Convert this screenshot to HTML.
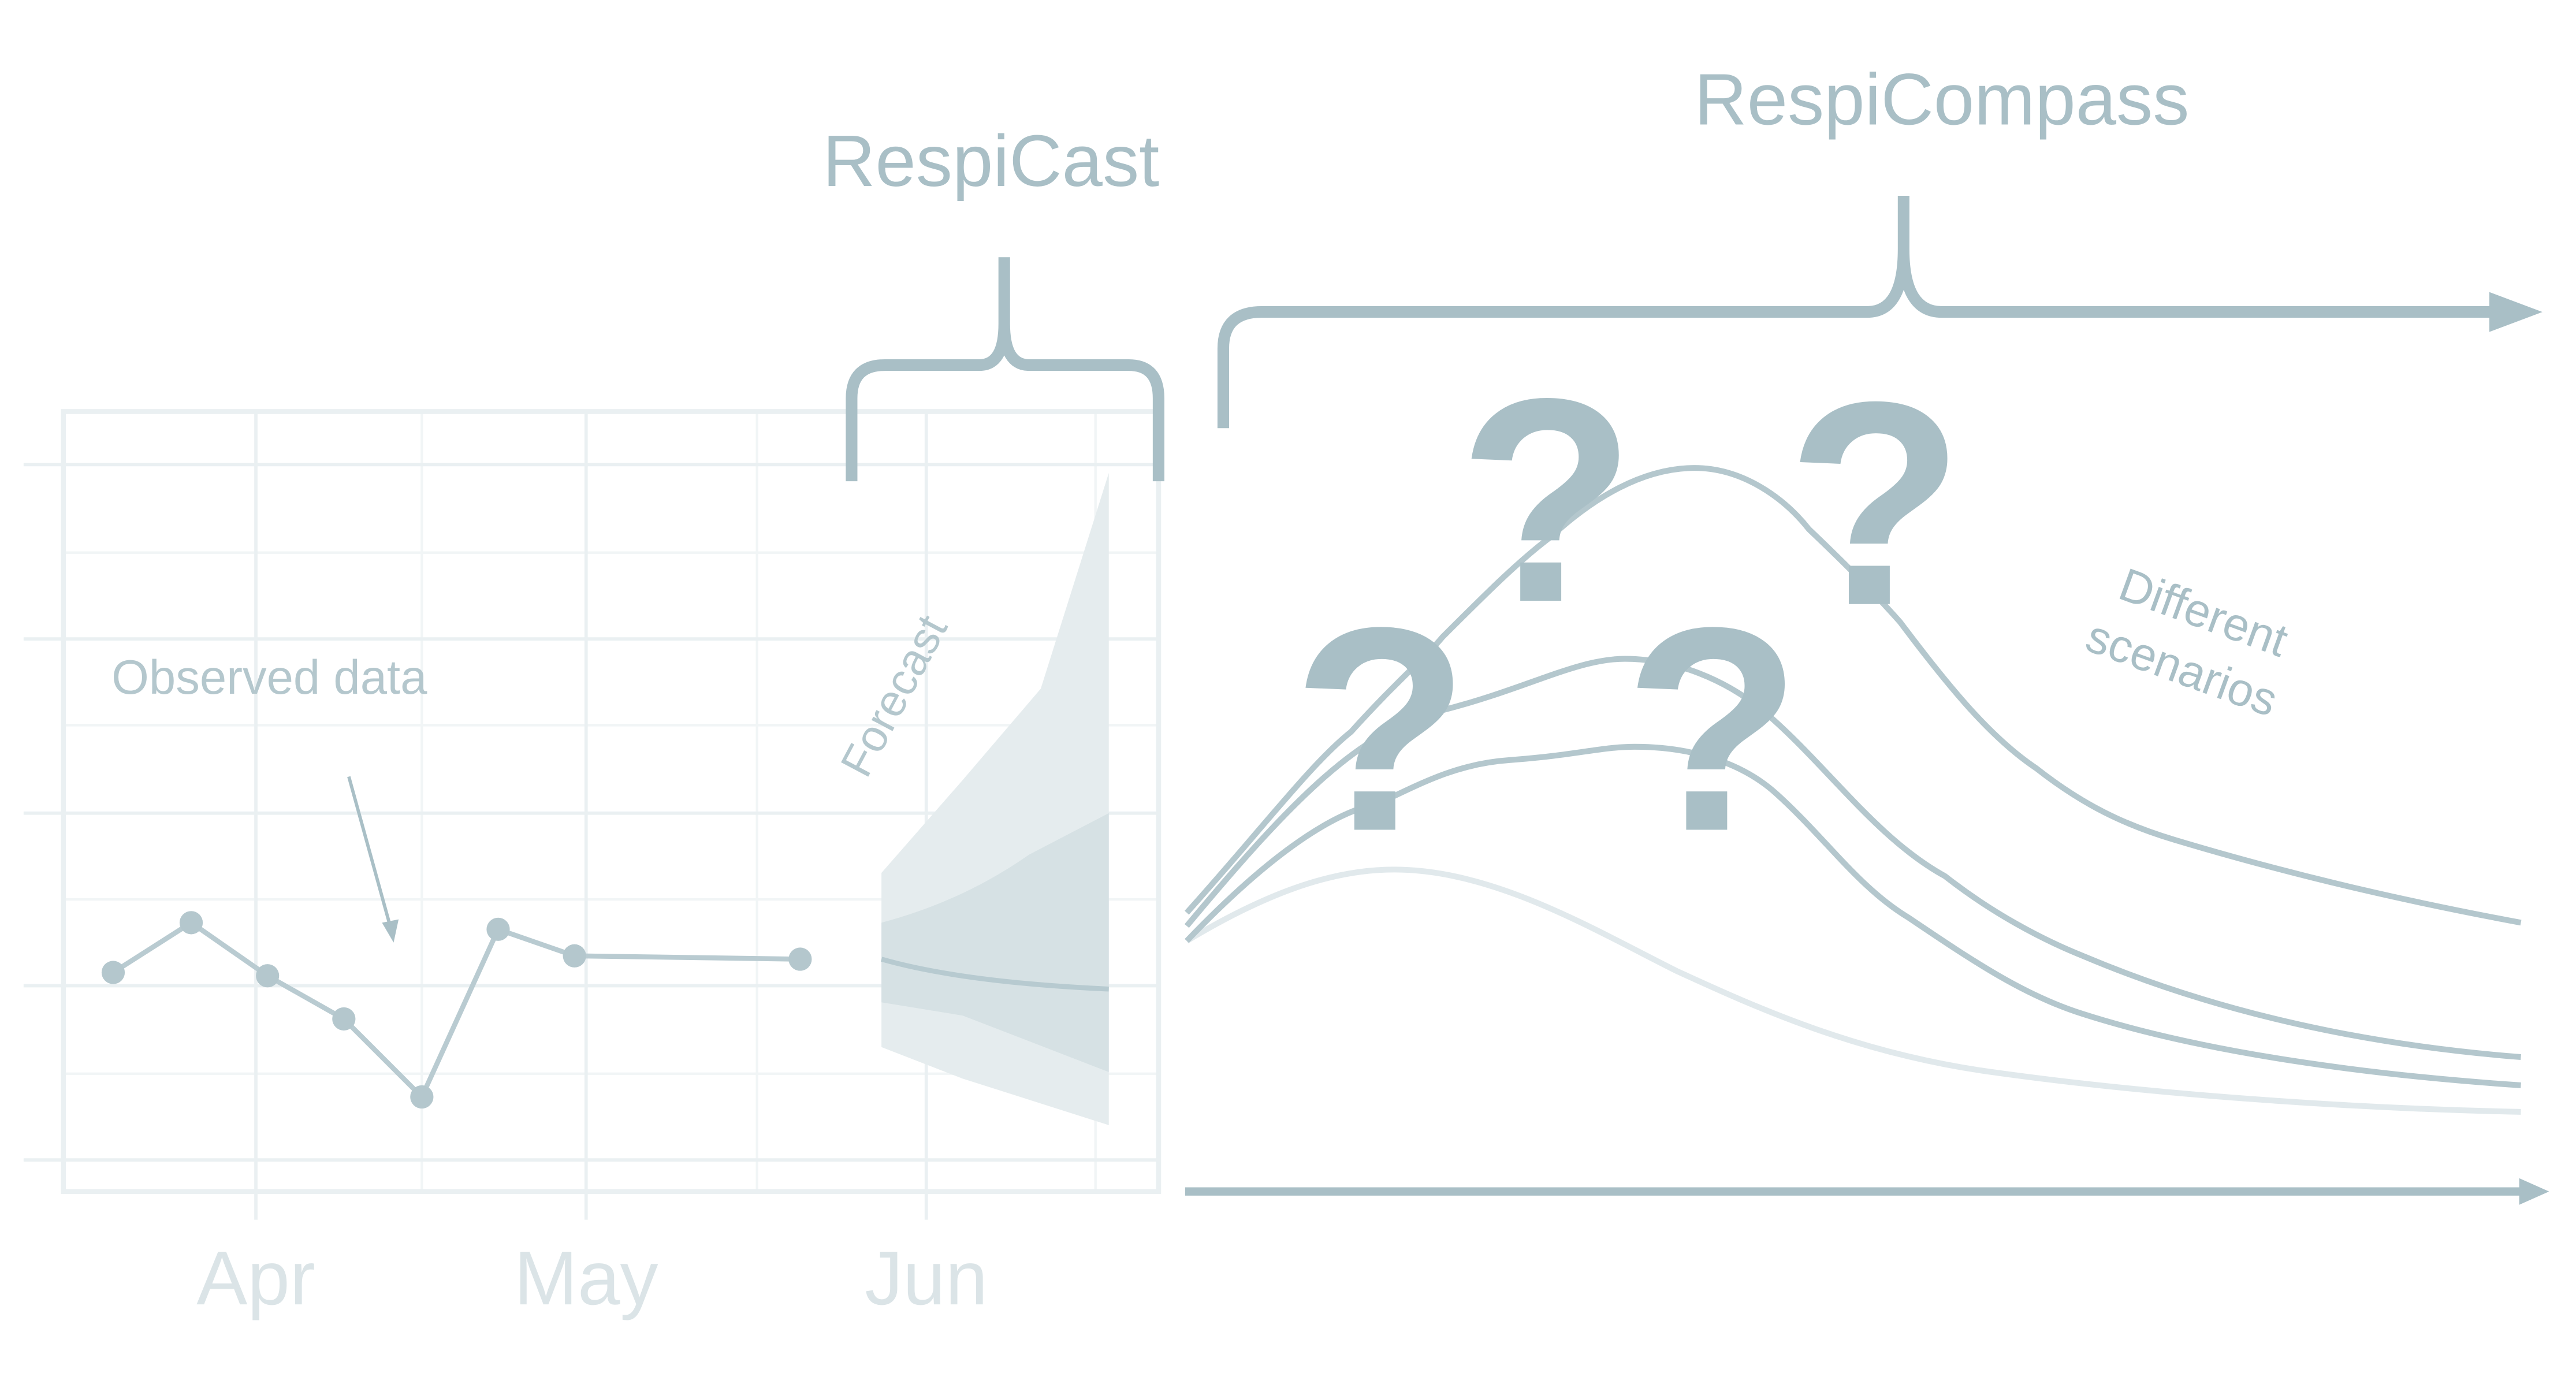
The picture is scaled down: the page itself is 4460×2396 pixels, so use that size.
<!DOCTYPE html>
<html><head><style>html,body{margin:0;padding:0;background:#fff}svg{display:block}</style></head><body>
<svg width="4460" height="2396" viewBox="0 0 1552 834" xmlns="http://www.w3.org/2000/svg" font-family="Liberation Sans, sans-serif">
<rect width="1552" height="834" fill="#fff"/>
<g stroke="#f1f5f6" stroke-width="1.5" fill="none">
<path d="M38 333H698M38 437H698M38 542H698M38 647H698"/>
<path d="M254 248V718M456 248V718M660 248V718"/>
</g>
<g stroke="#eaf0f2" stroke-width="2" fill="none">
<path d="M14 280H698M14 385H698M14 490H698M14 594H698M14 699H698"/>
<path d="M154 248V735M353 248V735M558 248V735"/>
<rect x="38" y="248" width="660" height="470" stroke-width="3"/>
</g>
<path d="M531 526 L580 470 L627 415 L668 285 L668 678 L580 650 L531 631Z" fill="#e5ecee"/>
<path d="M531 556 Q580 543 620 515 L668 490 L668 646 L580 612 L531 604Z" fill="#d6e1e4"/>
<path d="M531 578 Q580 592 668 596" stroke="#b7cad0" stroke-width="3" fill="none"/>
<polyline points="68,586 115,556 161,588 207,614 254,661 300,560 346,576 482,578" fill="none" stroke="#b9cbd1" stroke-width="3"/>
<g fill="#b4c7cd"><circle cx="68" cy="586" r="7"/><circle cx="115" cy="556" r="7"/><circle cx="161" cy="588" r="7"/><circle cx="207" cy="614" r="7"/><circle cx="254" cy="661" r="7"/><circle cx="300" cy="560" r="7"/><circle cx="346" cy="576" r="7"/><circle cx="482" cy="578" r="7"/></g>
<path d="M210 468 L236 562" stroke="#a9bfc6" stroke-width="2"/>
<path d="M230 556 L237 568 L240 554Z" fill="#a9bfc6"/>
<text x="67" y="418" font-size="29" fill="#b4c7cd">Observed data</text>
<text transform="translate(522,470) rotate(-62)" font-size="27" fill="#b4c7cd">Forecast</text>
<g font-size="46" fill="#dbe4e7" text-anchor="middle"><text x="154" y="786">Apr</text><text x="353" y="786">May</text><text x="558" y="786">Jun</text></g>
<g stroke="#a9bfc6" stroke-width="7" fill="none">
<path d="M513 290 V240 Q513 220 533 220 H590 Q605 220 605 195 V155 M605 195 Q605 220 620 220 H680 Q698 220 698 240 V290"/>
<path d="M737 258 V210 Q737 188 760 188 H1125 Q1147 188 1147 150 V118 M1147 150 Q1147 188 1170 188 H1505"/>
</g>
<path d="M1500 176 L1532 188 L1500 200Z" fill="#a9bfc6"/>
<path d="M714 718 H1520" stroke="#a9bfc6" stroke-width="5"/>
<path d="M1518 710 L1536 718 L1518 726Z" fill="#a9bfc6"/>
<text x="597" y="112" font-size="44" fill="#a9bfc6" text-anchor="middle">RespiCast</text>
<text x="1170" y="75" font-size="44" fill="#a9bfc6" text-anchor="middle">RespiCompass</text>
<g fill="none" stroke-width="3.5" stroke-linejoin="round">
<path d="M715 567 C760 540 800 524 840 524 C900 524 960 560 1010 585 C1060 608 1120 635 1200 646 C1300 660 1420 668 1519 670" stroke="#e1e9ec"/>
<path d="M715 567 C760 520 800 490 831 484 C860 470 880 460 910 458 C950 455 965 450 985 450 C1020 450 1050 460 1070 478 C1100 505 1120 535 1150 553 C1190 580 1220 600 1255 611 C1330 635 1430 648 1519 654" stroke="#b4c7cd"/>
<path d="M715 558 C780 480 820 440 869 428 C920 415 950 397 979 397 C1010 397 1040 410 1062 428 C1100 460 1130 505 1172 528 C1200 550 1230 566 1255 576 C1340 612 1430 630 1519 637" stroke="#b4c7cd"/>
<path d="M715 550 C760 500 790 460 814 441 C840 412 860 395 869 384 C895 358 915 338 935 323 C960 300 990 282 1021 282 C1050 282 1075 300 1090 319 C1110 338 1130 358 1145 375 C1175 415 1200 445 1227 463 C1255 485 1280 497 1310 506 C1390 530 1460 545 1519 556" stroke="#b4c7cd"/>
</g>
<g font-size="175" font-weight="bold" fill="#a9bfc6" text-anchor="middle"><text x="932" y="362">?</text><text x="1130" y="364">?</text><text x="832" y="500">?</text><text x="1032" y="500">?</text></g>
<g transform="translate(1275,360) rotate(20)" font-size="28" fill="#a9bfc6"><text x="0" y="0">Different</text><text x="-8" y="36">scenarios</text></g>
</svg>
</body></html>
